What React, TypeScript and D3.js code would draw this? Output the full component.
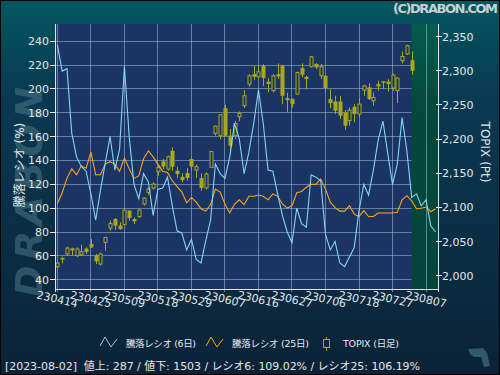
import * as d3 from "d3";

const W = 500;
const H = 375;
const PLOT = { left: 55, right: 438, top: 24, bottom: 289 };

// x ticks every 7 trading days
const tickLabels = [
  "230414", "230425", "230509", "230518", "230529", "230607",
  "230616", "230627", "230706", "230718", "230727", "230807",
];

const leftTicks = [40, 60, 80, 100, 120, 140, 160, 180, 200, 220, 240];
const rightTicks = [2000, 2050, 2100, 2150, 2200, 2250, 2300, 2350];

// 騰落レシオ (6日)
const ratio6 = [
  237, 215, 217, 163, 143, 135, 131, 112, 90, 115,
  138, 160, 132, 150, 219, 160, 120, 108, 129, 122,
  94, 116, 117, 126, 102, 81, 79, 65, 74, 57,
  54, 73, 90, 137, 129, 125, 143, 171, 158, 129,
  147, 171, 199, 171, 132, 131, 112, 94, 80, 71,
  100, 87, 84, 128, 126, 123, 78, 65, 72, 54,
  51, 59, 67, 98, 120, 111, 132, 157, 173, 146,
  120, 137, 176, 148, 109, 112, 102, 107, 85, 80,
];

// 騰落レシオ (25日)
const ratio25 = [
  104, 113, 125, 133, 128, 135.5, 133.5, 147, 128, 128,
  137, 139, 137, 131, 142, 133, 125, 127, 141.5, 148,
  143, 137, 131, 130, 123, 118, 113.5, 104.5, 109, 105,
  99.5, 97.5, 103, 116, 113.5, 103.5, 96, 103.5, 107, 103,
  110, 110, 111, 110, 107, 112, 110, 103.5, 100, 102,
  113, 114, 117.5, 120, 120, 124.5, 116, 105, 100.5, 97.5,
  97.5, 102, 95, 93, 98, 93, 93, 96, 96, 96,
  96, 96.5, 107, 110.5, 106.2, 99.5, 100, 101, 97, 99.5,
];

// TOPIX daily candles (230414 .. 230802)
const topixOpen = [
  2013, 2026, 2032, 2040, 2029.3, 2030.8, 2039.6, 2046.4, 2029.8, 2017,
  2048.8, 2069.8, 2083, 2073.3, 2074.7, 2095.2, 2083, 2086.4, 2105, 2122,
  2128.4, 2152.3, 2167.4, 2156.2, 2183, 2153.7, 2144.9, 2150.3, 2170.8, 2154.7,
  2143, 2128.4, 2158.6, 2208.4, 2205, 2245.4, 2205, 2205, 2232.8, 2248.9,
  2280.6, 2295.2, 2291.3, 2307.4, 2284.1, 2270.9, 2295.2, 2307.4, 2260, 2258.6,
  2266, 2304, 2291.3, 2306, 2310, 2292.8, 2292.8, 2258.6, 2255.2, 2255.2,
  2239, 2227, 2247.4, 2236.7, 2271.8, 2275.8, 2256, 2280.6, 2284.5, 2284.5,
  2274.8, 2270.9, 2314.8, 2324.6, 2315.7,
];
const topixHigh = [
  2020, 2028, 2042.5, 2041, 2041.5, 2045.4, 2041.5, 2053.7, 2031.8, 2033.7,
  2056.5, 2080.5, 2084.4, 2078, 2096.5, 2096.2, 2085.4, 2097.6, 2114.7, 2129.3,
  2136.7, 2161, 2170.8, 2175.7, 2187.9, 2159.6, 2149.8, 2157.6, 2174.2, 2162.5,
  2149.8, 2151.3, 2182.5, 2219.5, 2236.7, 2250.3, 2214.7, 2226.9, 2240.5, 2271.8,
  2295.2, 2307.4, 2307.4, 2309.9, 2289.4, 2295.2, 2310.9, 2308.9, 2268, 2260,
  2299, 2311, 2292.8, 2322, 2311.3, 2310, 2293.5, 2273, 2263.5, 2263.5,
  2242.5, 2246.4, 2251.3, 2260, 2279.6, 2281.6, 2268.4, 2285.5, 2285, 2288,
  2296.2, 2290.4, 2328.4, 2338.3, 2328.4,
];
const topixLow = [
  2012, 2018, 2029, 2029.6, 2027, 2029.3, 2031.8, 2040.5, 2017, 2014.7,
  2036.6, 2065.9, 2066.8, 2066.8, 2074.2, 2080.5, 2075.7, 2084.4, 2102.5, 2118.6,
  2126, 2146.4, 2156.2, 2153.7, 2153.7, 2142.5, 2136.7, 2139, 2153.7, 2143,
  2124.5, 2126, 2157.5, 2205, 2200, 2204.5, 2178.2, 2200, 2226, 2245.4,
  2276.7, 2286.4, 2289, 2278, 2268.5, 2268.5, 2288, 2251.3, 2240, 2246,
  2265, 2290.5, 2273, 2305, 2302.6, 2288, 2268.5, 2245.4, 2236.7, 2229.3,
  2213.6, 2219.6, 2224.5, 2231.8, 2263.5, 2257.2, 2249, 2270.9, 2273, 2269.4,
  2270.9, 2252.8, 2310.9, 2323.1, 2294.3,
];
const topixClose = [
  2018.5, 2024, 2040.5, 2037, 2039, 2035.2, 2034.7, 2041.5, 2021, 2031.8,
  2056, 2076.6, 2073.3, 2068.3, 2096, 2084.4, 2079.6, 2096.2, 2113.7, 2126.9,
  2134.2, 2158.6, 2159.6, 2174.2, 2159.6, 2148.8, 2140, 2143, 2159.6, 2159.6,
  2128.4, 2148.8, 2182, 2219, 2235.7, 2205, 2190.4, 2223, 2237.6, 2263.5,
  2292.8, 2291.3, 2298.6, 2289.3, 2280.6, 2292.8, 2291.8, 2263.5, 2257, 2251.3,
  2297.6, 2294.3, 2288, 2320.6, 2305, 2306, 2274.7, 2252.7, 2241.6, 2234.2,
  2219.6, 2242.5, 2236.7, 2251.3, 2278, 2258.7, 2261, 2277.2, 2282.5, 2280.6,
  2293.8, 2289.4, 2321, 2336.8, 2300.1,
];

const lastIndex = topixClose.length - 1;

const FONT = "'DejaVu Sans', 'Noto Sans CJK JP', sans-serif";
const TEXT = "#e4e6ea";
const GRID = "rgba(170,185,215,0.55)";
const CANDLE = "#a9a71c";
const BLUE = "#86d4f4";
const ORANGE = "#ffa514";

export default function App() {
  const x = d3.scaleLinear().domain([-0.5, 79.5]).range([PLOT.left, PLOT.right]);
  const yL = d3.scaleLinear().domain([32.2, 254.5]).range([PLOT.bottom, PLOT.top]);
  const yR = d3.scaleLinear().domain([1980.5, 2368.6]).range([PLOT.bottom, PLOT.top]);
  const fmt = d3.format(",");

  const line = d3
    .line<number>()
    .x((_, i) => x(i))
    .y((d) => yL(d));

  const greenX = x(lastIndex);

  return (
    <svg
      width={W}
      height={H}
      style={{ position: "absolute", left: 0, top: 0, fontFamily: FONT }}
    >
      <defs>
        <linearGradient id="bg" x1="0" y1="0" x2="0" y2="1">
          <stop offset="0" stopColor="#02575f" />
          <stop offset="0.25" stopColor="#093a52" />
          <stop offset="1" stopColor="#0b2237" />
        </linearGradient>
        <linearGradient id="fut" x1="0" y1="0" x2="0" y2="1">
          <stop offset="0" stopColor="#045c4c" />
          <stop offset="0.3" stopColor="#04493b" />
          <stop offset="1" stopColor="#03443a" />
        </linearGradient>
      </defs>
      <rect x={0} y={0} width={W} height={H} fill="url(#bg)" stroke="#000" strokeWidth={2} />

      {/* watermark */}
      <text
        transform="translate(42,192) rotate(-90)"
        textAnchor="middle"
        fontSize={38}
        fontWeight="bold"
        fontStyle="italic"
        textLength={210}
        fill="#45707f"
        opacity={0.6}
      >
        DRABON
      </text>

      <text x={393} y={13} fontSize={13} fontWeight="bold" fill="#c9d0d4" textLength={105}>
        (C)DRABON.COM
      </text>

      {/* plot background */}
      <rect
        x={PLOT.left}
        y={PLOT.top}
        width={PLOT.right - PLOT.left}
        height={PLOT.bottom - PLOT.top}
        fill="#1a3463"
      />

      {/* horizontal grid */}
      <g shapeRendering="crispEdges">
        {leftTicks.map((t) => (
          <line key={t} x1={PLOT.left} x2={greenX} y1={yL(t)} y2={yL(t)} stroke={GRID} />
        ))}
      </g>

      <rect
        x={greenX}
        y={PLOT.top}
        width={PLOT.right - greenX}
        height={PLOT.bottom - PLOT.top}
        fill="url(#fut)"
      />

      {/* vertical grid + x labels */}
      <g shapeRendering="crispEdges">
        {tickLabels.map((_, k) => (
          <line
            key={k}
            x1={x(k * 7)}
            x2={x(k * 7)}
            y1={PLOT.top}
            y2={PLOT.bottom + 3}
            stroke={GRID}
          />
        ))}
      </g>
      {tickLabels.map((lab, k) => {
        const tx = x(k * 7);
        return (
          <text
            key={lab}
            x={tx}
            y={303}
            fontSize={11}
            fill={TEXT}
            textAnchor="middle"
            transform={`rotate(13,${tx},299)`}
          >
            {lab}
          </text>
        );
      })}

      {/* candles */}
      <g>
        {topixClose.map((c, i) => {
          const o = topixOpen[i];
          const cx = Math.round(x(i)) + 0.5;
          const top = yR(Math.max(o, c));
          const bot = yR(Math.min(o, c));
          const up = c >= o;
          return (
            <g key={i}>
              <line x1={cx} x2={cx} y1={yR(topixHigh[i])} y2={yR(topixLow[i])} stroke={CANDLE} />
              {up ? (
                <rect
                  x={cx - 1.5}
                  y={top}
                  width={3}
                  height={Math.max(1, bot - top)}
                  fill="#1a3463"
                  stroke={CANDLE}
                />
              ) : (
                <rect
                  x={cx - 2}
                  y={top}
                  width={4}
                  height={Math.max(1.5, bot - top)}
                  fill={CANDLE}
                />
              )}
            </g>
          );
        })}
      </g>

      {/* ratio lines */}
      <path d={line(ratio25) ?? ""} fill="none" stroke={ORANGE} strokeWidth={1.1} />
      <path d={line(ratio6) ?? ""} fill="none" stroke={BLUE} strokeWidth={1.1} />

      {/* axes */}
      <g shapeRendering="crispEdges" stroke="#dfe3ea">
        <line x1={PLOT.left} x2={PLOT.left} y1={PLOT.top} y2={PLOT.bottom + 3} />
        <line x1={PLOT.right} x2={PLOT.right} y1={PLOT.top} y2={PLOT.bottom + 3} />
        <line x1={PLOT.left} x2={PLOT.right} y1={PLOT.bottom} y2={PLOT.bottom} />
        {leftTicks.map((t) => (
          <line key={t} x1={PLOT.left - 5} x2={PLOT.left} y1={yL(t)} y2={yL(t)} />
        ))}
        {rightTicks.map((t) => (
          <line key={t} x1={PLOT.right - 2} x2={PLOT.right + 4} y1={yR(t)} y2={yR(t)} />
        ))}
      </g>
      {leftTicks.map((t) => (
        <text key={t} x={PLOT.left - 6} y={yL(t) + 4} fontSize={11} fill={TEXT} textAnchor="end">
          {t}
        </text>
      ))}
      {rightTicks.map((t) => (
        <text key={t} x={PLOT.right + 4} y={yR(t) + 4} fontSize={11} fill={TEXT}>
          {fmt(t)}
        </text>
      ))}

      {/* axis titles */}
      <text
        transform="translate(24,165) rotate(-90)"
        textAnchor="middle"
        fontSize={12}
        fill={TEXT}
      >
        騰落レシオ (%)
      </text>
      <text
        transform="translate(481,152) rotate(90)"
        textAnchor="middle"
        fontSize={12}
        fill={TEXT}
      >
        TOPIX (Pt)
      </text>

      {/* legend */}
      <g fontSize={9.5} fill={TEXT}>
        <polyline points="100,346 105,337 111,347 117,339" fill="none" stroke={BLUE} />
        <text x={126} y={347} textLength={70}>騰落レシオ (6日)</text>
        <polyline points="206,346 211,337 217,347 223,339" fill="none" stroke={ORANGE} />
        <text x={232} y={347} textLength={77}>騰落レシオ (25日)</text>
        <line x1={326.5} x2={326.5} y1={337} y2={351} stroke={CANDLE} />
        <rect x={323.5} y={339.5} width={6} height={8} fill="#0b2a3f" stroke={CANDLE} />
        <text x={343} y={347} textLength={56}>TOPIX (日足)</text>
      </g>

      {/* footer */}
      <text
        x={5}
        y={370}
        fontSize={11}
        fill={TEXT}
        textLength={415}
        style={{ whiteSpace: "pre" }}
      >
        {"[2023-08-02]  値上: 287 / 値下: 1503 / レシオ6: 109.02% / レシオ25: 106.19%"}
      </text>

      {/* corner logo */}
      <path
        d="M468,349 L483,348 L487,353 L490,366 L484,367 L481,357 L474,357 L470,354 Z"
        fill="#2f5869"
      />
    </svg>
  );
}
